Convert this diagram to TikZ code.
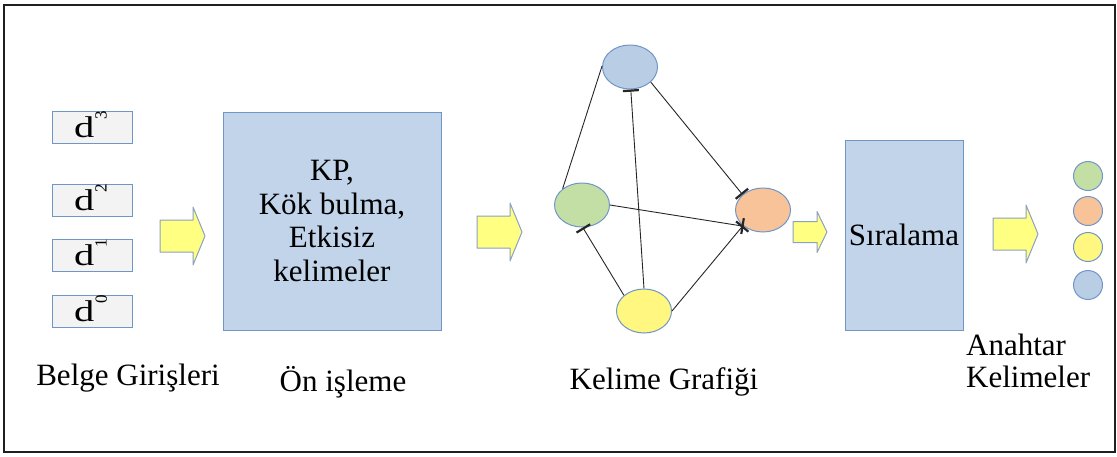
\documentclass[tikz,border=0pt]{standalone}
\usepackage{fontspec}
\setmainfont{Liberation Serif}
\usetikzlibrary{shapes.geometric,arrows.meta}

\definecolor{edgeblue}{HTML}{7096C8}
\definecolor{procfill}{HTML}{C2D4EA}
\definecolor{docfill}{HTML}{F3F3F3}
\definecolor{nblue}{HTML}{B9CDE5}
\definecolor{ngreen}{HTML}{C3DFA6}
\definecolor{norange}{HTML}{F9C39A}
\definecolor{nyellow}{HTML}{FFF780}
\definecolor{arrfill}{HTML}{FFFF82}
\definecolor{arrline}{HTML}{8CA0C0}

% document label: wide d with a turned index
\newcommand\dlabel[1]{{\fontsize{30}{30}\selectfont\scalebox{1.35}[1]{d}}\hspace{1pt}\raisebox{18pt}{\fontsize{17}{17}\selectfont\rotatebox{90}{#1}}}

% block arrow: name, x start, x head, x tip, y centre, shaft half, head half
\newcommand\blockarrow[7]{%
  \draw[yarrow] (#2,#5-#6) -- (#3,#5-#6) -- (#3,#5-#7) -- (#4,#5)
    -- (#3,#5+#7) -- (#3,#5+#6) -- (#2,#5+#6) -- cycle;
  \coordinate (#1) at (#4,#5);}

\begin{document}
\begin{tikzpicture}[x=1pt,y=-1pt,
  frame/.style={draw=black!88,line width=1.8pt},
  docbox/.style={draw=edgeblue,fill=docfill,line width=1pt,minimum width=80pt,
    minimum height=32pt,inner sep=0pt},
  procbox/.style={draw=edgeblue,fill=procfill,line width=1pt,inner sep=0pt,
    align=center,font=\fontsize{31}{33.5}\selectfont},
  gnode/.style={ellipse,draw=edgeblue,line width=1pt,minimum width=55pt,
    minimum height=44pt,inner sep=0pt},
  knode/.style={circle,draw=edgeblue,line width=1pt,minimum size=29pt,inner sep=0pt},
  yarrow/.style={draw=arrline,fill=arrfill,line width=1pt,line join=round},
  gline/.style={draw=black!85,line width=0.9pt},
  glink/.style={gline,-{Bar[width=16pt,line width=2.2pt]}},
  lbl/.style={inner sep=0pt,font=\fontsize{31}{32}\selectfont}]

\useasboundingbox (0,0) rectangle (1117,456);
\draw[frame] (4,5) rectangle (1115,452);

% input documents
\node[docbox] (d3) at (92,127.5) {};
\node[docbox] (d2) at (92,200.5) {};
\node[docbox] (d1) at (92,255.5) {};
\node[docbox] (d0) at (92,311.5) {};
\foreach \n/\i in {d3/3,d2/2,d1/1,d0/0}
  \node[anchor=base west,inner sep=0pt] (\n txt) at ([xshift=-18pt,yshift=-10pt]\n.center) {\dlabel{\i}};

% preprocessing
\node[procbox,minimum width=218pt,minimum height=218pt] (pre) at (332,221)
  {KP,\\Kök bulma,\\Etkisiz\\kelimeler};

% word graph
\node[gnode,fill=nblue]   (blu) at (630,67)  {};
\node[gnode,fill=ngreen]  (grn) at (582,205) {};
\node[gnode,fill=norange] (org) at (763,210) {};
\node[gnode,fill=nyellow] (yel) at (644,311) {};

\draw[gline] (blu.178) -- (grn.140);
\draw[glink] (yel.90)  -- (blu.-88);
\draw[glink] (blu.-36) -- (org.143);
\draw[glink] (grn.0)   -- (org.-140);
\draw[glink] (yel.0)   -- (org.-142);
\draw[glink] (yel.142) -- (grn.-88);

% ranking
\node[procbox,minimum width=118pt,minimum height=190pt] (rank) at (904,235) {Sıralama};

% keywords
\node[knode,fill=ngreen]  (k1) at (1088,176) {};
\node[knode,fill=norange] (k2) at (1088,211) {};
\node[knode,fill=nyellow] (k3) at (1088,247) {};
\node[knode,fill=nblue]   (k4) at (1088,285) {};

% flow arrows
\blockarrow{a1}{160}{193}{205}{236}{16}{29}
\blockarrow{a2}{477}{510}{522}{232}{16}{29}
\blockarrow{a3}{793}{817}{827}{232}{10.5}{20.5}
\blockarrow{a4}{993}{1026}{1038}{234}{16}{29}

% captions
\node[lbl] (l1) at (128,378) {Belge Girişleri};
\node[lbl] (l2) at (343,382) {Ön işleme};
\node[lbl] (l3) at (664,382) {Kelime Grafiği};
\node[lbl,align=left,anchor=west] (l4) at (966,361) {Anahtar\\Kelimeler};
\end{tikzpicture}
\end{document}
